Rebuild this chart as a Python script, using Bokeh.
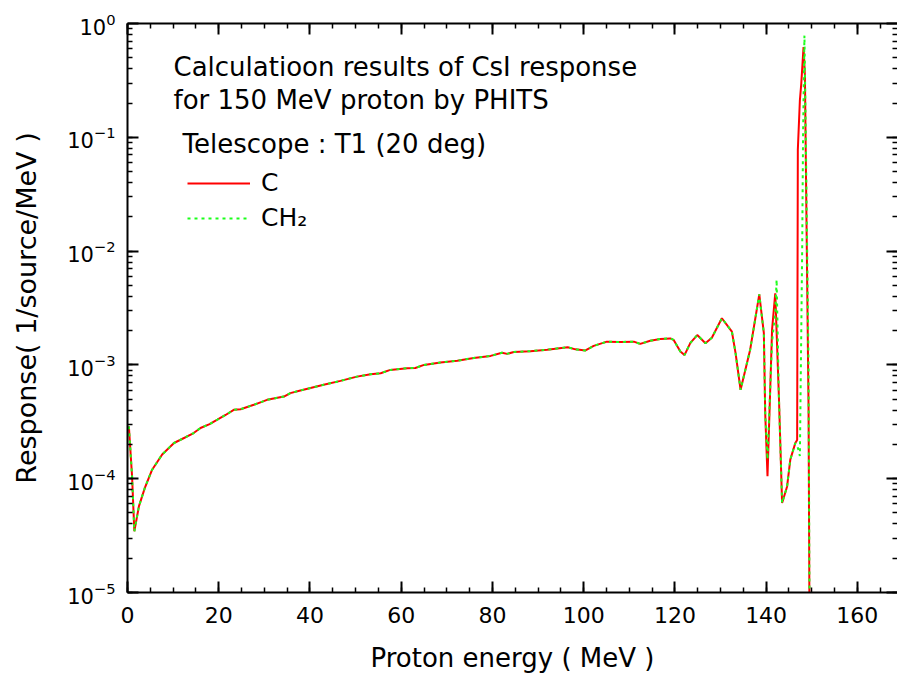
from bokeh.plotting import figure
from bokeh.models import (Range1d, LinearAxis, LogAxis, FixedTicker, SingleIntervalTicker,
                          Label, Legend, LegendItem, CustomJSTickFormatter)
from bokeh.embed import file_html
from bokeh.resources import INLINE

# ---- data ----
energy_common = [0.3, 1.0, 1.5, 2.5, 3.8, 5.4, 7.6, 10.2, 12.5, 14.5, 16.0, 18.0, 19.7,
                 21.5, 23.3, 24.8, 27.7, 30.6, 34.3, 35.7, 37.9, 43.0, 46.7, 50.3, 53.3,
                 55.5, 57.6, 61.3, 63.1, 65.0, 68.6, 72.3, 75.9, 79.6, 82.1, 83.2, 84.7,
                 88.3, 92.0, 96.5, 98.2, 100.4, 102.2, 105.1, 108.1, 111.0, 112.4, 114.6,
                 116.8, 119.0, 119.7, 121.2, 122.1, 123.4, 124.9, 126.7, 128.1, 130.3,
                 132.5, 133.3, 134.4, 136.5, 138.5, 139.5, 139.8]
resp_common = [2.88e-4, 1.05e-4, 3.45e-5, 5.71e-5, 8.3e-5, 1.20e-4, 1.63e-4, 2.06e-4,
               2.29e-4, 2.52e-4, 2.79e-4, 3.02e-4, 3.30e-4, 3.63e-4, 4.03e-4, 4.08e-4,
               4.46e-4, 4.93e-4, 5.27e-4, 5.65e-4, 5.96e-4, 6.68e-4, 7.24e-4, 7.89e-4,
               8.28e-4, 8.45e-4, 9.04e-4, 9.35e-4, 9.4e-4, 1.0e-3, 1.05e-3, 1.09e-3,
               1.15e-3, 1.20e-3, 1.28e-3, 1.25e-3, 1.30e-3, 1.32e-3, 1.36e-3, 1.43e-3,
               1.37e-3, 1.34e-3, 1.47e-3, 1.60e-3, 1.59e-3, 1.60e-3, 1.53e-3, 1.63e-3,
               1.69e-3, 1.71e-3, 1.66e-3, 1.31e-3, 1.22e-3, 1.56e-3, 1.83e-3, 1.55e-3,
               1.73e-3, 2.57e-3, 1.96e-3, 1.27e-3, 6.04e-4, 1.36e-3, 4.17e-3, 1.90e-3,
               3.77e-4]

energy_c_tail = [140.3, 141.3, 142.0, 142.8, 143.5, 144.6, 145.3, 146.4, 146.8, 146.95,
                 147.4, 147.7, 148.2, 148.5, 148.8, 149.3, 149.7]
resp_c_tail = [1.05e-4, 2.03e-3, 4.26e-3, 5.27e-4, 6.12e-5, 8.55e-5, 1.47e-4, 2.06e-4,
               2.19e-4, 7.76e-2, 0.211, 0.295, 0.62, 0.355, 2.82e-2, 4.27e-4, 1e-7]

energy_ch2_tail = [140.3, 141.3, 142.0, 142.3, 142.8, 143.5, 144.6, 145.3, 146.4, 146.9,
                   147.4, 147.9, 148.1, 148.4, 148.7, 149.3, 149.7]
resp_ch2_tail = [1.48e-4, 1.6e-3, 2.9e-3, 5.62e-3, 5.27e-4, 6.12e-5, 8.55e-5, 1.47e-4,
                 2.06e-4, 1.91e-4, 1.58e-4, 1.0e-2, 0.107, 0.785, 0.1, 1.0e-3, 1e-7]

energy_c = energy_common + energy_c_tail
resp_c = resp_common + resp_c_tail
energy_ch2 = energy_common + energy_ch2_tail
resp_ch2 = resp_common + resp_ch2_tail

x_major = [0, 20, 40, 60, 80, 100, 120, 140, 160]
y_major = [1e-5, 1e-4, 1e-3, 1e-2, 1e-1, 1.0]
y_minor = [m * d for d in [1e-5, 1e-4, 1e-3, 1e-2, 1e-1] for m in range(1, 10)]

title_lines = ["Calculatioon results of CsI response", "for 150 MeV proton by PHITS"]
telescope_text = "Telescope : T1 (20 deg)"
series_names = ["C", "CH\u2082"]

FONT = "DejaVu Sans"

p = figure(width=897, height=677, y_axis_type="log",
           x_range=Range1d(0, 168.8), y_range=Range1d(1e-5, 1.0),
           output_backend="svg", toolbar_location=None,
           min_border_left=127, min_border_right=0, min_border_top=23, min_border_bottom=85,
           background_fill_color="white", border_fill_color="white")
p.outline_line_color = None
p.xgrid.visible = False
p.ygrid.visible = False

r_c = p.line(energy_c, resp_c, line_color="#ff0000", line_width=2)
r_ch2 = p.line(energy_ch2, resp_ch2, line_color="#1aff1a", line_width=2, line_dash="3 4")

def style(ax):
    ax.axis_line_width = 2
    ax.axis_line_color = "black"
    ax.major_tick_in = 11
    ax.major_tick_out = 0
    ax.minor_tick_in = 5
    ax.minor_tick_out = 0
    ax.major_tick_line_width = 2
    ax.minor_tick_line_width = 1.5
    ax.major_tick_line_color = "black"
    ax.minor_tick_line_color = "black"
    ax.major_label_text_font = FONT
    ax.major_label_text_color = "black"
    ax.axis_label_text_color = "black"

xt = SingleIntervalTicker(interval=20, num_minor_ticks=4)
yt = FixedTicker(ticks=y_major, minor_ticks=y_minor)

xa = p.xaxis[0]
xa.ticker = xt
style(xa)
xa.major_label_text_font_size = "22px"
xa.major_label_standoff = 14
xa.axis_label = "Proton energy ( MeV )"
xa.axis_label_text_font = FONT
xa.axis_label_text_font_size = "26px"
xa.axis_label_text_font_style = "normal"
xa.axis_label_standoff = 17

ya = p.yaxis[0]
ya.ticker = yt
style(ya)
ya.major_label_text_font_size = "21px"
ya.major_label_standoff = 12
ya.axis_label = "Response( 1/source/MeV )"
ya.axis_label_text_font = FONT
ya.axis_label_text_font_size = "27px"
ya.axis_label_text_font_style = "normal"
ya.axis_label_standoff = 22

blank = CustomJSTickFormatter(code="return ''")
top = LinearAxis(ticker=xt, formatter=blank)
style(top)
top.major_label_text_font_size = "1px"
top.major_label_standoff = 0
p.add_layout(top, "above")

right = LogAxis(ticker=yt, formatter=CustomJSTickFormatter(code="return ''"))
style(right)
right.axis_line_alpha = 0
right.major_label_text_font_size = "1px"
right.major_label_standoff = 0
p.add_layout(right, "right")

for txt, yy in zip(title_lines, [526, 493]):
    p.add_layout(Label(x=46, y=yy, x_units="screen", y_units="screen", text=txt,
                       text_font=FONT, text_font_size="26px", text_color="black",
                       text_baseline="alphabetic"))
p.add_layout(Label(x=55, y=449, x_units="screen", y_units="screen", text=telescope_text,
                   text_font=FONT, text_font_size="26px", text_color="black",
                   text_baseline="alphabetic"))

legend = Legend(items=[LegendItem(label=series_names[0], renderers=[r_c]),
                       LegendItem(label=series_names[1], renderers=[r_ch2])],
                location=(60, 360), padding=0, margin=0, spacing=6,
                glyph_width=63, glyph_height=20, label_standoff=11,
                label_text_font=FONT, label_text_font_size="25px",
                label_text_color="black",
                border_line_color=None, background_fill_alpha=0)
p.add_layout(legend)

open("out.html", "w").write(file_html(p, INLINE))
